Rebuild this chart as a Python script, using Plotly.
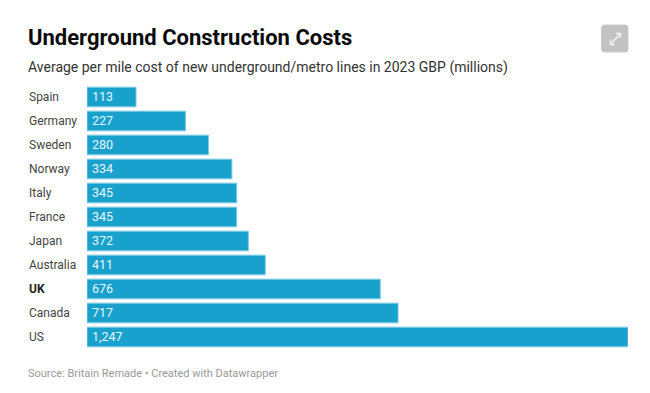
import plotly.graph_objects as go

countries = ["Spain", "Germany", "Sweden", "Norway", "Italy", "France", "Japan", "Australia", "UK", "Canada", "US"]
costs = [113, 227, 280, 334, 345, 345, 372, 411, 676, 717, 1247]
bar_labels = ["113", "227", "280", "334", "345", "345", "372", "411", "676", "717", "1,247"]
highlight = "UK"

W, H = 650, 393
L, R, T, B = 87, 22, 85, 44
px = lambda v: (v - L) / (W - L - R)
py = lambda v: 1 - (v - T) / (H - T - B)

fig = go.Figure(go.Bar(
    x=costs, y=countries, orientation="h",
    marker=dict(color="#18a1cd", line=dict(color="#7fcbe4", width=1)),
    hoverinfo="skip", width=0.82,
))

ann = [
    dict(x=px(26), y=py(37.4), text="<b>Underground Construction Costs</b>",
         font=dict(family="Roboto", size=22, color="#0b0b0b")),
    dict(x=px(26), y=py(67.5), text="Average per mile cost of new underground/metro lines in 2023 GBP (millions)",
         font=dict(family="Roboto", size=14, color="#333333")),
    dict(x=px(26), y=py(373), text="Source: Britain Remade • Created with Datawrapper",
         font=dict(family="Roboto", size=11, color="#9a9a9a")),
]
for a in ann:
    a.update(xref="paper", yref="paper", xanchor="left", yanchor="middle", showarrow=False)

for c, lab in zip(countries, bar_labels):
    ann.append(dict(
        x=px(27), xref="paper", y=c, yref="y", xanchor="left", yanchor="middle", showarrow=False,
        text=f"<b>{c}</b>" if c == highlight else c,
        font=dict(family="Roboto", size=12, color="#222222" if c == highlight else "#444444"),
    ))
    ann.append(dict(
        x=0, xref="x", y=c, yref="y", xanchor="left", yanchor="middle", showarrow=False,
        xshift=3, yshift=1, text=lab,
        font=dict(family="Roboto", size=12.5, color="#e8f6fb"),
    ))

def rp(pts):
    return "M " + " L ".join(f"{px(x):.4f},{py(y):.4f}" for x, y in pts)

x0, x1, y0, y1, r = 601.5, 628, 25, 52, 3
icon = (f"M {px(x0+r):.4f},{py(y0):.4f} L {px(x1-r):.4f},{py(y0):.4f} "
        f"Q {px(x1):.4f},{py(y0):.4f} {px(x1):.4f},{py(y0+r):.4f} "
        f"L {px(x1):.4f},{py(y1-r):.4f} Q {px(x1):.4f},{py(y1):.4f} {px(x1-r):.4f},{py(y1):.4f} "
        f"L {px(x0+r):.4f},{py(y1):.4f} Q {px(x0):.4f},{py(y1):.4f} {px(x0):.4f},{py(y1-r):.4f} "
        f"L {px(x0):.4f},{py(y0+r):.4f} Q {px(x0):.4f},{py(y0):.4f} {px(x0+r):.4f},{py(y0):.4f} Z")
shapes = [dict(type="path", xref="paper", yref="paper", path=icon,
               fillcolor="#c2c2c2", line=dict(color="#cacaca", width=1), layer="above")]
for pts in ([(611, 44), (620, 34)], [(616, 33.5), (620.5, 33.5), (620.5, 38)],
            [(610.5, 39.5), (610.5, 44.5), (615, 44.5)]):
    shapes.append(dict(type="path", xref="paper", yref="paper", path=rp(pts),
                       line=dict(color="#f2f2f2", width=1.5), layer="above"))

fig.update_layout(
    width=W, height=H, autosize=False,
    margin=dict(l=L, r=R, t=T, b=B, pad=0),
    paper_bgcolor="white", plot_bgcolor="white", showlegend=False,
    xaxis=dict(range=[0, 1247], visible=False, fixedrange=True),
    yaxis=dict(categoryorder="array", categoryarray=countries, autorange="reversed",
               visible=False, fixedrange=True),
    annotations=ann, shapes=shapes,
)
fig.write_html("out.html", config=dict(displayModeBar=False),
               post_script="document.body.style.margin='0';")
